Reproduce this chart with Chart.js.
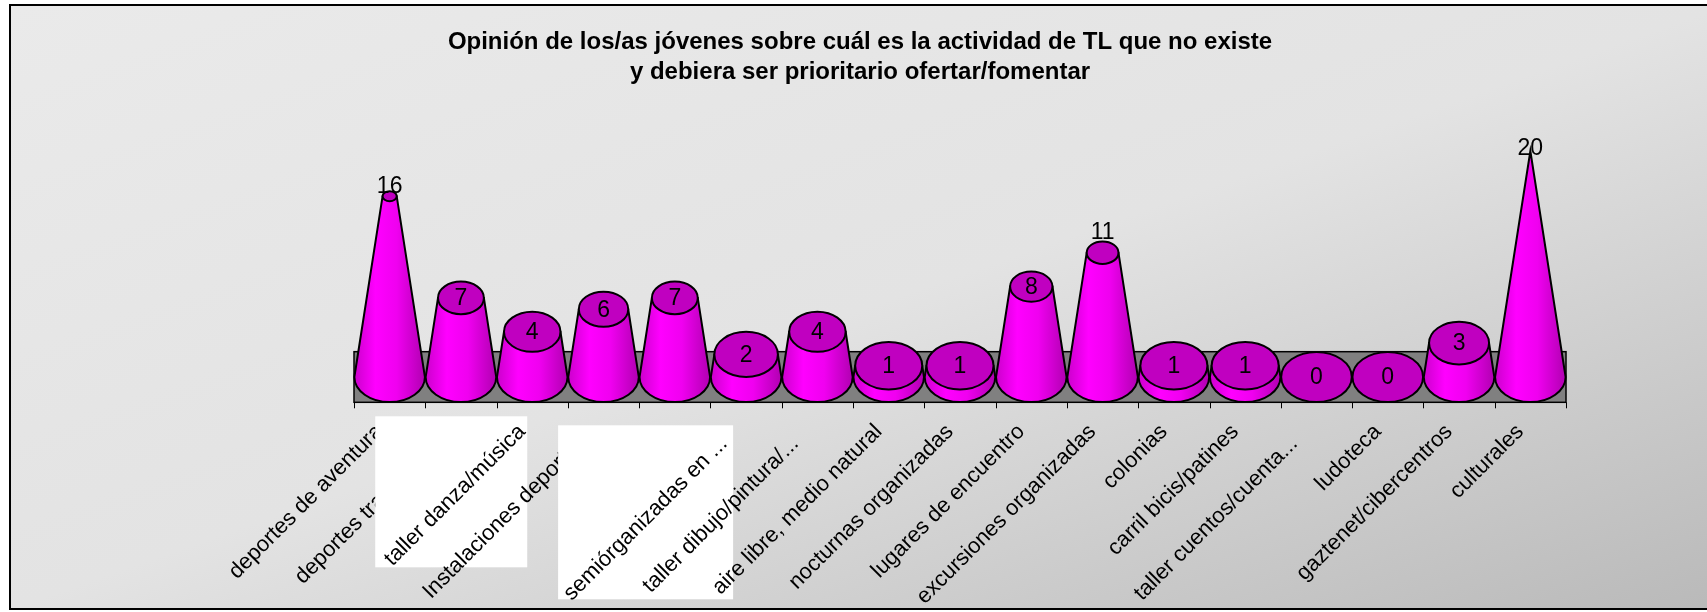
<!DOCTYPE html>
<html>
<head>
<meta charset="utf-8">
<title>Actividades de TL</title>
<script src="https://cdn.jsdelivr.net/npm/chart.js@4.4.1/dist/chart.umd.min.js"></script>
<style>
  html, body { margin: 0; padding: 0; background: #fff; }
  #wrap { width: 1707px; height: 612px; }
</style>
</head>
<body>
<div id="wrap"><canvas id="conos"></canvas></div>
<script>
const titulo = [
  'Opinión de los/as jóvenes sobre cuál es la actividad de TL que no existe',
  'y debiera ser prioritario ofertar/fomentar'
];
// cut-off labels keep a little trailing space, as the spreadsheet left them
const actividades = [
  'deportes de aventura', 'deportes tradicionales', 'taller danza/música',
  'Instalaciones deportivas', '', 'semiórganizadas en ...\u2002 ',
  'taller dibujo/pintura/...\u2002 ', 'aire libre, medio natural', 'nocturnas organizadas',
  'lugares de encuentro', 'excursiones organizadas', 'colonias',
  'carril bicis/patines', 'taller cuentos/cuenta...\u2002 ', 'ludoteca',
  'gaztenet/cibercentros', 'culturales'
];
const respuestas = [16, 7, 4, 6, 7, 2, 4, 1, 1, 8, 11, 1, 1, 0, 0, 3, 20];
const ejeMax = 20;

const FUENTE = "'Liberation Sans', Arial, sans-serif";
const APLASTADO = 0.71;   // vertical squash of the cone ellipses
const PAD_ETIQ = 42;
const DESPL_ETIQ = -10;
const TAM_ETIQ = 22;

// white text boxes laid over the axis labels (offsets from the tick of `cat`
// and from the axis line); `encima` lists the labels painted after the box
const recuadros = [
  { cat: 2, izq: -157, der: -5, arr: 14, aba: 165, encima: [2, 3] },
  { cat: 5, izq: -188, der: -13, arr: 23, aba: 197, encima: [5, 6, 7] }
];
const repintadas = new Set(recuadros.flatMap(b => b.encima));

function cono(ctx, cx, base, top, R, apex) {
  const r = R * (top - apex) / (base - apex);
  const ry = R * APLASTADO;
  ctx.lineWidth = 2;
  ctx.strokeStyle = '#000';
  if (base - top > 0.5) {
    const g = ctx.createLinearGradient(cx - R, 0, cx + R, 0);
    g.addColorStop(0, '#cc00cc');
    g.addColorStop(0.3, '#ff00ff');
    g.addColorStop(0.6, '#f000f0');
    g.addColorStop(0.88, '#c400c4');
    g.addColorStop(1, '#b000b0');
    ctx.beginPath();
    ctx.moveTo(cx - R, base);
    ctx.lineTo(cx - r, top);
    ctx.lineTo(cx + r, top);
    ctx.lineTo(cx + R, base);
    ctx.ellipse(cx, base, R, ry, 0, 0, Math.PI);
    ctx.closePath();
    ctx.fillStyle = g;
    ctx.fill();
    ctx.stroke();
  }
  if (r > 0.5) {
    ctx.beginPath();
    ctx.ellipse(cx, top, r, r * APLASTADO, 0, 0, Math.PI * 2);
    ctx.fillStyle = '#c000c0';
    ctx.fill();
    ctx.stroke();
  }
  return r;
}

// same placement Chart.js uses for a 45° rotated label under the axis
function etiqueta(ctx, x, i) {
  const lh = TAM_ETIQ * 1.2;
  ctx.save();
  ctx.translate(x.getPixelForValue(i) + DESPL_ETIQ - lh / 2 * Math.SQRT1_2, x.top + PAD_ETIQ);
  ctx.rotate(-Math.PI / 4);
  ctx.font = TAM_ETIQ + 'px ' + FUENTE;
  ctx.fillStyle = '#000';
  ctx.textAlign = 'right';
  ctx.textBaseline = 'middle';
  ctx.fillText(actividades[i], 0, lh / 2);
  ctx.restore();
}

const fondo = {
  id: 'fondo',
  beforeDraw(chart) {
    const { ctx, width, height } = chart;
    const x0 = 10, y0 = 5, x1 = width + 20, y1 = height - 3;
    ctx.save();
    ctx.fillStyle = '#fff';
    ctx.fillRect(0, 0, width, height);
    ctx.save();
    ctx.translate(x0, y0);
    ctx.scale(x1 - x0, y1 - y0);
    const g = ctx.createLinearGradient(0, 0, 1, 1);
    g.addColorStop(0, '#eaeaea');
    g.addColorStop(0.5, '#e3e3e3');
    g.addColorStop(1, '#b9b9b9');
    ctx.fillStyle = g;
    ctx.fillRect(0, 0, 1, 1);
    ctx.restore();
    ctx.lineWidth = 2;
    ctx.strokeStyle = '#000';
    ctx.strokeRect(x0, y0, x1 - x0, y1 - y0);

    ctx.fillStyle = '#000';
    ctx.font = 'bold 24px ' + FUENTE;
    ctx.textAlign = 'center';
    ctx.textBaseline = 'middle';
    titulo.forEach((t, i) => ctx.fillText(t, 860, 42 + i * 30));
    ctx.restore();
  }
};

const conos = {
  id: 'conos',
  beforeDatasetsDraw(chart) {
    const { ctx, chartArea, scales: { x, y } } = chart;
    const base = y.getPixelForValue(0);
    const R = (x.getPixelForValue(1) - x.getPixelForValue(0)) / 2;
    const ry = R * APLASTADO;
    ctx.save();
    ctx.fillStyle = '#808080';
    ctx.strokeStyle = '#000';
    ctx.lineWidth = 1.5;
    ctx.fillRect(chartArea.left, base - ry, chartArea.width, ry * 2);
    ctx.strokeRect(chartArea.left, base - ry, chartArea.width, ry * 2);
    ctx.beginPath();
    for (let i = 0; i <= actividades.length; i++) {
      const px = Math.round(x.getPixelForValue(i - 0.5)) + 0.5;
      ctx.moveTo(px, base + ry);
      ctx.lineTo(px, base + ry + 6);
    }
    ctx.lineWidth = 1;
    ctx.stroke();
    ctx.restore();
  },
  afterDatasetsDraw(chart) {
    const { ctx, scales: { y } } = chart;
    const apex = y.getPixelForValue(ejeMax);
    const meta = chart.getDatasetMeta(0);
    ctx.save();
    meta.data.forEach((bar, i) => {
      const R = bar.width / 2;
      const r = cono(ctx, bar.x, bar.base, bar.y, R, apex);
      // value on the top face, or just above it when the face is too small
      const ly = r > 18 ? bar.y : bar.y - 1.6 * r * APLASTADO - 3;
      ctx.fillStyle = '#000';
      ctx.font = '23px ' + FUENTE;
      ctx.textAlign = 'center';
      ctx.textBaseline = 'middle';
      ctx.fillText(String(respuestas[i]), bar.x, ly + 1);
    });
    ctx.restore();
  },
  afterDraw(chart) {
    const { ctx, scales: { x, y } } = chart;
    const eje = y.getPixelForValue(0) + (x.getPixelForValue(1) - x.getPixelForValue(0)) / 2 * APLASTADO;
    ctx.save();
    recuadros.forEach(b => {
      const t = x.getPixelForValue(b.cat);
      ctx.fillStyle = '#fff';
      ctx.fillRect(t + b.izq, eje + b.arr, b.der - b.izq, b.aba - b.arr);
      b.encima.forEach(i => etiqueta(ctx, x, i));
    });
    ctx.restore();
  }
};

new Chart(document.getElementById('conos'), {
  type: 'bar',
  data: {
    labels: actividades,
    datasets: [{
      data: respuestas,
      backgroundColor: 'rgba(0,0,0,0)',
      borderWidth: 0,
      barPercentage: 1,
      categoryPercentage: 0.99
    }]
  },
  options: {
    responsive: true,
    maintainAspectRatio: false,
    animation: false,
    layout: { padding: { left: 354, right: 141, top: 151, bottom: 0 } },
    plugins: {
      legend: { display: false },
      tooltip: { enabled: false },
      title: { display: false }
    },
    scales: {
      x: {
        grid: { display: false, drawTicks: false },
        border: { display: false },
        ticks: {
          autoSkip: false,
          minRotation: 45,
          maxRotation: 45,
          padding: PAD_ETIQ,
          labelOffset: DESPL_ETIQ,
          // labels painted over the text boxes are left to the plugin
          color: ctx => repintadas.has(ctx.index) ? 'rgba(0,0,0,0)' : '#000',
          font: { family: FUENTE, size: TAM_ETIQ }
        },
        afterFit(s) { s.height = 235; }
      },
      y: { display: false, min: 0, max: ejeMax }
    }
  },
  plugins: [fondo, conos]
});
</script>
</body>
</html>
